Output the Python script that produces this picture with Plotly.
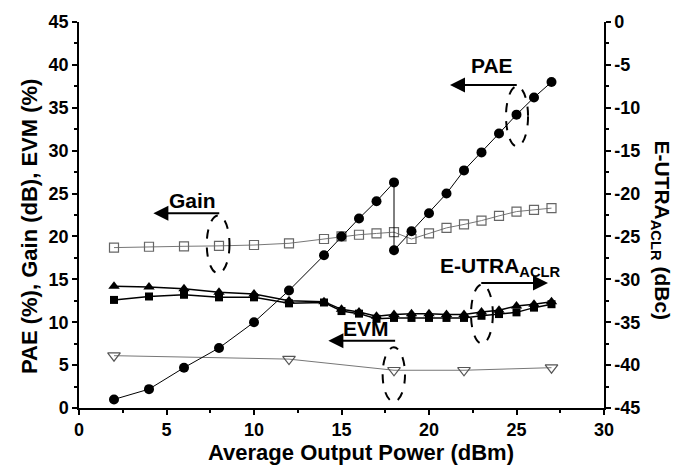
import plotly.graph_objects as go

# ---------------- data ----------------
pae_x = [2, 4, 6, 8, 10, 12, 14, 15, 16, 17, 18, 18, 19, 20, 21, 22, 23, 24, 25, 26, 27]
pae_y = [1.0, 2.2, 4.7, 7.0, 10.0, 13.7, 17.8, 20.0, 22.1, 24.1, 26.3, 18.4, 20.6, 22.7, 25.0, 27.7, 29.8, 32.0, 34.2, 36.2, 38.0]

gain_x = [2, 4, 6, 8, 10, 12, 14, 15, 16, 17, 18, 19, 20, 21, 22, 23, 24, 25, 26, 27]
gain_y = [18.7, 18.8, 18.85, 18.9, 19.0, 19.2, 19.7, 20.0, 20.2, 20.35, 20.5, 19.7, 20.35, 21.0, 21.4, 21.85, 22.4, 22.9, 23.1, 23.3]

evm_x = [2, 12, 18, 22, 27]
evm_y = [6.1, 5.7, 4.4, 4.4, 4.7]

aclr_x = [2, 4, 6, 8, 10, 12, 14, 15, 16, 17, 18, 19, 20, 21, 22, 23, 24, 25, 26, 27]
aclr_tri = [-30.8, -30.9, -31.1, -31.5, -31.7, -32.5, -32.6, -33.5, -33.8, -34.3, -34.1, -34.0, -34.0,
            -34.1, -34.1, -33.8, -33.6, -33.1, -32.9, -32.6]
aclr_sq = [-32.4, -32.0, -31.8, -32.1, -32.1, -32.8, -32.7, -33.7, -34.0, -34.6, -34.5, -34.5, -34.5,
           -34.5, -34.5, -34.25, -34.05, -33.85, -33.3, -32.9]

x_ticks = [0, 5, 10, 15, 20, 25, 30]
y_ticks = [0, 5, 10, 15, 20, 25, 30, 35, 40, 45]
y2_ticks = [0, -5, -10, -15, -20, -25, -30, -35, -40, -45]
y2_labels = [str(v) for v in y2_ticks]

FONT = "Liberation Sans, Arial, sans-serif"

fig = go.Figure()

fig.add_trace(go.Scatter(x=gain_x, y=gain_y, mode="lines+markers",
                         line=dict(color="#777777", width=1),
                         marker=dict(symbol="square-open", size=9, color="#666666",
                                     line=dict(width=1.2, color="#666666"))))
fig.add_trace(go.Scatter(x=evm_x, y=evm_y, mode="lines+markers",
                         line=dict(color="#777777", width=1),
                         marker=dict(symbol="triangle-down-open", size=11, color="#555555",
                                     line=dict(width=1.2, color="#555555"))))
fig.add_trace(go.Scatter(x=aclr_x, y=aclr_sq, mode="lines+markers", yaxis="y2",
                         line=dict(color="black", width=1.5),
                         marker=dict(symbol="square", size=8, color="black")))
fig.add_trace(go.Scatter(x=aclr_x, y=aclr_tri, mode="lines+markers", yaxis="y2",
                         line=dict(color="black", width=1.5),
                         marker=dict(symbol="triangle-up", size=10, color="black")))
fig.add_trace(go.Scatter(x=pae_x, y=pae_y, mode="lines+markers",
                         line=dict(color="black", width=1),
                         marker=dict(symbol="circle", size=10, color="black")))

tick_font = dict(family=FONT, size=18, color="black", weight="bold")
title_font = dict(family=FONT, size=22, color="black", weight="bold")

axis_common = dict(showline=True, linecolor="black", linewidth=1.5, ticks="outside",
                   ticklen=5, tickwidth=1.5, tickcolor="black", showgrid=False,
                   zeroline=False, tickfont=tick_font, mirror=False)

fig.update_layout(
    width=674, height=468,
    margin=dict(l=79, r=70, t=18, b=60),
    paper_bgcolor="white", plot_bgcolor="white",
    showlegend=False,
    xaxis=dict(range=[0, 30], tickvals=x_ticks,
               minor=dict(ticks="outside", ticklen=3, tickwidth=1.5, tickcolor="black", dtick=2.5),
               **axis_common),
    yaxis=dict(range=[0, 45], tickvals=y_ticks,
               minor=dict(ticks="outside", ticklen=3, tickwidth=1.5, tickcolor="black", dtick=2.5),
               **axis_common),
    yaxis2=dict(range=[-45, 0], tickvals=y2_ticks, ticktext=y2_labels, overlaying="y", side="right",
                minor=dict(ticks="outside", ticklen=3, tickwidth=1.5, tickcolor="black", dtick=2.5),
                **axis_common),
)

ann_font = dict(family=FONT, size=21, color="black", weight="bold")
ann = []
# labels
for txt, x, y, ys in [("PAE", 23.6, 39.6, 3), ("Gain", 6.5, 24.2, 0), ("EVM", 16.4, 8.8, 4),
                      ("E-UTRA<sub>ACLR</sub>", 24.1, 16.4, 0)]:
    ann.append(dict(x=x, y=y, xref="x", yref="y", text=txt, showarrow=False, font=ann_font,
                    yshift=ys))
# arrows (head, tail)
for hx, tx, y in [(21.2, 25.1, 37.65), (4.25, 8.1, 22.7), (14.25, 18.15, 7.85), (26.8, 22.9, 14.57)]:
    ann.append(dict(x=hx, y=y, ax=tx, ay=y, xref="x", yref="y", axref="x", ayref="y",
                    text="", showarrow=True, arrowhead=2, arrowsize=1.5, arrowwidth=2,
                    arrowcolor="black"))
# axis titles
ann.append(dict(x=0.537, y=-0.115, xref="paper", yref="paper", xanchor="center", yanchor="middle",
                text="Average Output Power (dBm)", showarrow=False, font=title_font))
ann.append(dict(x=-0.0933, y=0.469, xref="paper", yref="paper", xanchor="center", yanchor="middle",
                text="PAE (%), Gain (dB), EVM (%)", textangle=-90, showarrow=False, font=title_font))
ann.append(dict(x=1.0, y=0.46, xref="paper", yref="paper", xanchor="center", yanchor="middle",
                xshift=57, text="E-UTRA<sub>ACLR</sub> (dBc)", textangle=90, showarrow=False,
                font=dict(family=FONT, size=21, color="black", weight="bold")))
fig.update_layout(annotations=ann)

# dashed ellipses
for x0, x1, y0, y1 in [(24.4, 25.66, 30.5, 37.5), (7.3, 8.6, 15.7, 22.45),
                       (17.35, 18.63, 0.73, 7.07), (22.4, 23.65, 7.5, 14.4)]:
    fig.add_shape(type="circle", xref="x", yref="y", x0=x0, x1=x1, y0=y0, y1=y1,
                  line=dict(color="black", width=2, dash="dash"))

fig.write_html("out.html")
